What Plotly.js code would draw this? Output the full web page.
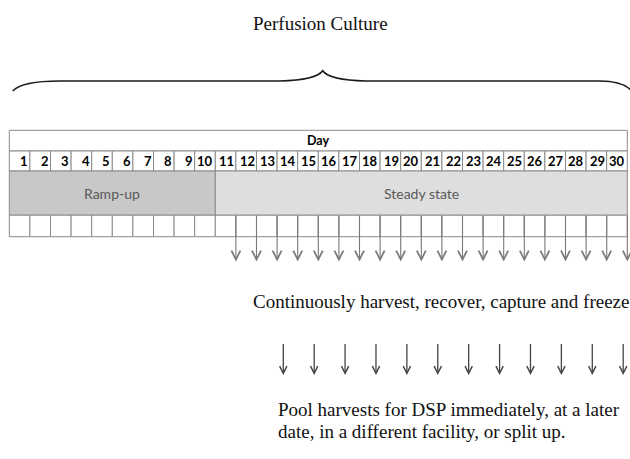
<!DOCTYPE html>
<html><head><meta charset="utf-8">
<script src="https://cdn.plot.ly/plotly-3.0.1.min.js"></script>
<style>html,body{margin:0;padding:0;background:#fff;overflow:hidden}</style>
</head><body><div id="chart" style="width:630px;height:459px"></div>
<script>
// ---- data ----
const days = [1,2,3,4,5,6,7,8,9,10,11,12,13,14,15,16,17,18,19,20,21,22,23,24,25,26,27,28,29,30];
const headerLabel = 'Day';
const phaseNames = ['Ramp-up', 'Steady state'];
const phaseStart = [1, 11];
const phaseEnd = [10, 30];
const harvestDays = [11,12,13,14,15,16,17,18,19,20,21,22,23,24,25,26,27,28,29,30];
const poolArrowPos = [13.3,14.8,16.3,17.8,19.3,20.8,22.3,23.8,25.3,26.8,28.3,29.8];
const titleText = 'Perfusion Culture';
const harvestText = 'Continuously harvest, recover, capture and freeze';
const poolText = ['Pool harvests for DSP immediately, at a later', 'date, in a different facility, or split up.'];

// ---- geometry (pixel layout) ----
const X0 = 9.3, CW = 20.6;
const u = px => (px - X0) / CW;           // pixel -> day units
const yDayTop = 130.3, yNumTop = 151, yPhaseTop = 171, yEmptyTop = 215, yEmptyBot = 236.7;
const yHarvestTip = 261.5, yPoolTop = 343, yPoolTip = 375;
const lineCol = '#8a8a8a';
const sans = 'Lato, "Open Sans", sans-serif';
const serif = '"Liberation Serif", "Times New Roman", serif';

const shapes = [];
const annotations = [];

// brace
const bp = (x, y) => u(x).toFixed(4) + ',' + y;
shapes.push({type:'path', xref:'x', yref:'y', line:{color:'#1a1a1a', width:1.6},
  path: 'M' + bp(12.7,91) + ' Q' + bp(22,81) + ' ' + bp(60,81) + ' L' + bp(280,81) +
        ' Q' + bp(316,80) + ' ' + bp(322.7,70.7) + ' Q' + bp(329,80) + ' ' + bp(366,81) +
        ' L' + bp(600,81) + ' Q' + bp(626,81) + ' ' + bp(634,94)});

// header row
shapes.push({type:'rect', x0:days[0]-1, x1:days[days.length-1], y0:yDayTop, y1:yNumTop,
  line:{color:lineCol, width:1}, fillcolor:'#ffffff'});
annotations.push({x:(days[0]-1+days[days.length-1])/2, y:(yDayTop+yNumTop)/2, text:'<b>'+headerLabel+'</b>',
  showarrow:false, font:{family:sans, size:12.5, color:'#000'}, xanchor:'center', yanchor:'middle'});

// number row + empty row
days.forEach(d => {
  shapes.push({type:'rect', x0:d-1, x1:d, y0:yNumTop, y1:yPhaseTop, line:{color:lineCol, width:1}, fillcolor:'#ffffff'});
  shapes.push({type:'rect', x0:d-1, x1:d, y0:yEmptyTop, y1:yEmptyBot, line:{color:lineCol, width:1}, fillcolor:'#ffffff'});
  annotations.push({x:d, y:(yNumTop+yPhaseTop)/2, text:'<b>'+d+'</b>', showarrow:false, xanchor:'right', yanchor:'middle',
    xshift:0, font:{family:sans, size:13, color:'#000'}});
});

// phases
const phaseFill = ['#c8c8c8', '#dedede'];
phaseNames.forEach((name, i) => {
  shapes.push({type:'rect', x0:phaseStart[i]-1, x1:phaseEnd[i], y0:yPhaseTop, y1:yEmptyTop,
    line:{color:lineCol, width:1}, fillcolor:phaseFill[i]});
  annotations.push({x:(phaseStart[i]-1+phaseEnd[i])/2, y:(yPhaseTop+yEmptyTop)/2, text:name, showarrow:false,
    xanchor:'center', yanchor:'middle', font:{family:sans, size:14, color:'#595959'}});
});

// harvest arrows
harvestDays.forEach(d => {
  annotations.push({x:d, y:yHarvestTip, ax:d, ay:yEmptyTop, axref:'x', ayref:'y', text:' ',
    font:{size:1}, borderpad:0, showarrow:true, arrowhead:5, arrowsize:1.6, arrowwidth:1.1, arrowcolor:'#7a7a7a', standoff:0});
});

// pool arrows
poolArrowPos.forEach(p => {
  annotations.push({x:p, y:yPoolTip, ax:p, ay:yPoolTop, axref:'x', ayref:'y', text:' ',
    font:{size:1}, borderpad:0, showarrow:true, arrowhead:5, arrowsize:1.1, arrowwidth:1.3, arrowcolor:'#444444', standoff:0});
});

// texts
annotations.push({x:u(320), y:23, text:titleText, showarrow:false, xanchor:'center', yanchor:'middle',
  font:{family:serif, size:19, color:'#111'}});
annotations.push({x:u(251), y:301, text:harvestText, showarrow:false, xanchor:'left', yanchor:'middle',
  font:{family:serif, size:19, color:'#111'}});
poolText.forEach((t, i) => {
  annotations.push({x:u(275.5), y:409 + i*22, text:t, showarrow:false, xanchor:'left', yanchor:'middle',
    font:{family:serif, size:19, color:'#111'}});
});

const layout = {
  width:630, height:459, autosize:false,
  margin:{l:0, r:0, t:0, b:0, pad:0},
  paper_bgcolor:'#ffffff', plot_bgcolor:'#ffffff',
  showlegend:false,
  xaxis:{range:[u(0), u(630)], visible:false, fixedrange:true},
  yaxis:{range:[459, 0], visible:false, fixedrange:true},
  shapes:shapes, annotations:annotations
};
Plotly.newPlot('chart', [{x:[], y:[], type:'scatter', mode:'markers', hoverinfo:'skip'}], layout,
  {staticPlot:true, displayModeBar:false});
</script></body></html>
